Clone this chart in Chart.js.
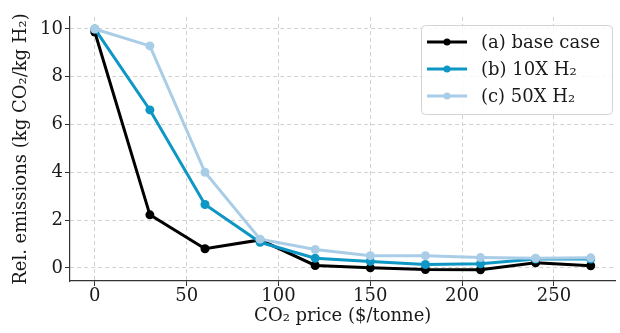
<!DOCTYPE html>
<html><head><meta charset="utf-8">
<script src="https://cdn.jsdelivr.net/npm/chart.js@4.4.1/dist/chart.umd.min.js"></script>
<style>html,body{margin:0;padding:0;background:#fff}#wrap{width:620px;height:333px}</style>
</head><body><div id="wrap"><canvas id="c" width="620" height="333"></canvas></div>
<script>
const prices = [0, 30, 60, 90, 120, 150, 180, 210, 240, 270];
const baseCase = [9.87, 2.22, 0.80, 1.17, 0.10, 0.00, -0.07, -0.08, 0.21, 0.09];
const tenX = [10.0, 6.61, 2.65, 1.07, 0.40, 0.27, 0.14, 0.17, 0.37, 0.37];
const fiftyX = [10.0, 9.29, 4.00, 1.20, 0.77, 0.51, 0.51, 0.43, 0.40, 0.42];
const seriesLabels = ['(a) base case', '(b) 10X H\u2082', '(c) 50X H\u2082'];
const xTicks = [0, 50, 100, 150, 200, 250];
const yTicks = [0, 2, 4, 6, 8, 10];

const colors = ['#000000', '#0e96c4', '#a9cde7'];
const FONT = "'DejaVu Serif'";
const TXT = '#1a1a1a';
const mk = (vals) => prices.map((p, i) => ({x: p, y: vals[i]}));

const legendPlugin = {
  id: 'customLegend',
  afterDraw(chart) {
    const ctx = chart.ctx;
    const x0 = 421, y0 = 25, w = 191, h = 89;
    ctx.save();
    ctx.fillStyle = 'rgba(255,255,255,0.85)';
    ctx.strokeStyle = '#d4d4d4';
    ctx.lineWidth = 1;
    ctx.beginPath();
    ctx.roundRect(x0 + 0.5, y0 + 0.5, w, h, 4);
    ctx.fill(); ctx.stroke();
    chart.data.datasets.forEach((ds, i) => {
      const y = 42 + i * 27;
      ctx.strokeStyle = ds.borderColor;
      ctx.lineWidth = 3;
      ctx.beginPath(); ctx.moveTo(427, y); ctx.lineTo(467, y); ctx.stroke();
      ctx.fillStyle = ds.borderColor;
      ctx.beginPath(); ctx.arc(447, y, 3.5, 0, Math.PI * 2); ctx.fill();
      ctx.fillStyle = TXT;
      ctx.font = "18px " + FONT;
      ctx.textBaseline = 'middle';
      ctx.textAlign = 'left';
      ctx.fillText(ds.label, 481, y + 1);
    });
    ctx.restore();
  }
};

const gridOpts = {color: '#d2d2d2', lineWidth: 1, drawTicks: true, tickLength: 5,
                  tickColor: '#333', tickBorderDash: [], tickWidth: 1};
const borderOpts = {display: true, color: '#333', width: 1.2, dash: [4, 3]};

new Chart(document.getElementById('c'), {
  type: 'line',
  data: {
    datasets: [baseCase, tenX, fiftyX].map((v, i) => ({
      label: seriesLabels[i],
      data: mk(v),
      borderColor: colors[i],
      backgroundColor: colors[i],
      borderWidth: 3,
      pointRadius: 4.5,
      pointHoverRadius: 4.5,
      pointBorderWidth: 0,
      tension: 0,
      order: 2 - i
    }))
  },
  options: {
    responsive: false,
    animation: false,
    events: [],
    layout: {padding: {left: 0, right: 2, top: 17, bottom: 0}},
    plugins: {legend: {display: false}, tooltip: {enabled: false}},
    scales: {
      x: {
        type: 'linear', min: -13.5, max: 283.5,
        afterBuildTicks: (s) => { s.ticks = xTicks.map(v => ({value: v})); },
        afterFit: (s) => { s.height = 52; },
        grid: gridOpts,
        border: borderOpts,
        ticks: {color: TXT, font: {family: FONT, size: 18}, padding: 0, maxRotation: 0},
        title: {display: true, text: 'CO\u2082 price ($/tonne)', color: TXT,
                font: {family: FONT, size: 18}, padding: {top: 0, bottom: 6}}
      },
      y: {
        type: 'linear', min: -0.55, max: 10.5,
        afterBuildTicks: (s) => { s.ticks = yTicks.map(v => ({value: v})); },
        afterFit: (s) => { s.width = 70; },
        grid: gridOpts,
        border: borderOpts,
        ticks: {color: TXT, font: {family: FONT, size: 18}, padding: 2},
        title: {display: true, text: 'Rel. emissions (kg CO\u2082/kg H\u2082)', color: TXT,
                font: {family: FONT, size: 18}, padding: {top: 11, bottom: 0}}
      }
    }
  },
  plugins: [legendPlugin]
});
</script></body></html>
